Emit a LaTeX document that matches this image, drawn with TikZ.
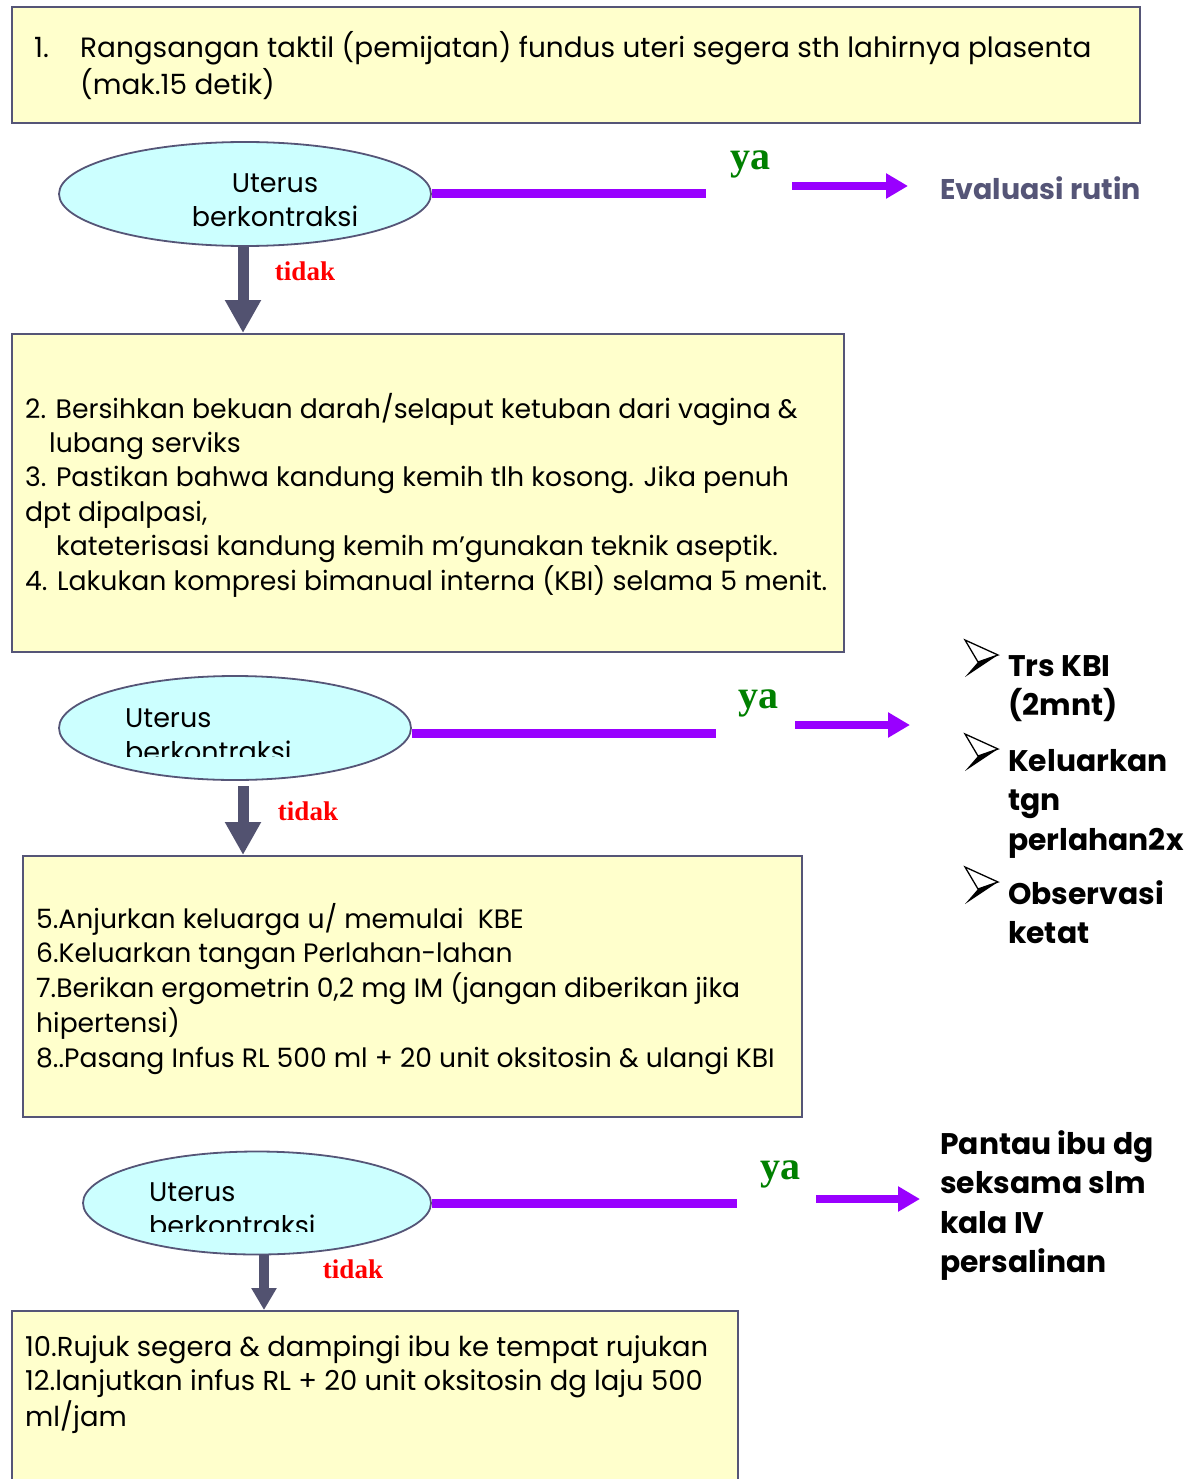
\documentclass[tikz,border=0pt]{standalone}
\usepackage{fontspec}
\setmainfont{Poppins}
\newfontfamily\serifbf{Liberation Serif}
\usetikzlibrary{shapes.geometric,arrows.meta,backgrounds}
\definecolor{boxfill}{HTML}{FFFFCC}
\definecolor{edge}{HTML}{555577}
\definecolor{stemc}{HTML}{525270}
\definecolor{cyanfill}{HTML}{CCFFFF}
\definecolor{purp}{HTML}{9900FF}
\definecolor{yagreen}{HTML}{008000}
\definecolor{evalc}{HTML}{555577}
\newcommand\mylines[1]{\begin{tabular}[t]{@{}l@{}}#1\end{tabular}}
\begin{document}
\begin{tikzpicture}[x=1pt,y=-1pt,
  stepbox/.style={draw=edge, line width=2pt, fill=boxfill, rectangle, anchor=north west, inner sep=0pt},
  decision/.style={ellipse, draw=edge, line width=1.8pt, fill=cyanfill, inner sep=0pt},
  body/.style={font=\fontsize{27}{34.5}\selectfont, anchor=base west, inner sep=0pt},
  stem/.style={draw=stemc, line width=11pt},
  down/.style={stem, -{Triangle[width=34pt,length=33pt]}},
  downsmall/.style={draw=stemc, line width=10pt, -{Triangle[width=24pt,length=22pt]}},
  yesline/.style={draw=purp, line width=9pt},
  yesarrow/.style={draw=purp, line width=8pt, -{Triangle[width=24pt,length=22pt]}},
  yalabel/.style={font=\serifbf\bfseries\fontsize{40}{40}\selectfont, text=yagreen, inner sep=0pt},
  tidaklabel/.style={font=\serifbf\bfseries\fontsize{27}{27}\selectfont, text=red, inner sep=0pt},
  boldtext/.style={font=\bfseries\fontsize{29.8}{39.5}\selectfont, anchor=base west, inner sep=0pt},
  ptr/.pic={
    \draw[line width=1.3pt, line join=miter, fill=white] (-15,-18) -- (18,-3) -- (-2,4) -- cycle;
    \fill[black] (-2,4) -- (18,-3) -- (-15,19) -- cycle;
  }
]
\useasboundingbox (0,0) rectangle (1194,1479);
\fill[white] (0,0) rectangle (1194,1479);

% ---------- boxes ----------
\node[stepbox, minimum width=1128pt, minimum height=116pt] (b1) at (11,6) {};
\node[stepbox, minimum width=832pt, minimum height=318pt] (b2) at (11,333) {};
\node[stepbox, minimum width=779pt, minimum height=261pt] (b3) at (22,855) {};
\node[stepbox, minimum width=726pt, minimum height=200pt] (b4) at (11,1310) {};

% ---------- decisions ----------
\node[decision, minimum width=372pt, minimum height=104pt] (d1) at (245,194) {};
\node[decision, minimum width=352pt, minimum height=104pt] (d2) at (235,728) {};
\node[decision, minimum width=348pt, minimum height=103pt] (d3) at (257,1203) {};

% ---------- box texts ----------
\node[body] (t1) at (34,58) {\fontsize{27.9}{35}\selectfont\mylines{\makebox[46pt][l]{1.}Rangsangan taktil (pemijatan) fundus uteri segera sth lahirnya plasenta\\\hspace*{46pt}(mak.15 detik)}};
\node[body] (t2) at (25,418) {\fontsize{26.7}{34.4}\selectfont\mylines{2. Bersihkan bekuan darah/selaput ketuban dari vagina \&\\\hspace*{24pt}lubang serviks\\3. Pastikan bahwa kandung kemih tlh kosong. Jika penuh\\dpt dipalpasi,\\\hspace*{31pt}kateterisasi kandung kemih m’gunakan teknik aseptik.\\4. Lakukan kompresi bimanual interna (KBI) selama 5 menit.}};
\node[body] (t3) at (36,928) {\fontsize{26.6}{34.5}\selectfont\mylines{5.Anjurkan keluarga u/ memulai\ \ KBE\\6.Keluarkan tangan Perlahan-lahan\\7.Berikan ergometrin 0,2 mg IM (jangan diberikan jika\\hipertensi)\\8..Pasang Infus RL 500 ml + 20 unit oksitosin \& ulangi KBI}};
\node[body] (t4) at (25,1356) {\fontsize{27.4}{34.5}\selectfont\mylines{10.Rujuk segera \& dampingi ibu ke tempat rujukan\\12.lanjutkan infus RL + 20 unit oksitosin dg laju 500\\ml/jam}};

% ---------- decision texts ----------
\node[body, anchor=base] (u1) at (275,193) {Uterus};
\node[body, anchor=base] (k1) at (275,227) {berkontraksi};
\begin{scope}
  \clip (60,690) rectangle (410,756);
  \node[body] (u2) at (125,727) {Uterus};
  \node[body] (k2) at (125,761) {berkontraksi};
\end{scope}
\begin{scope}
  \clip (84,1165) rectangle (430,1231);
  \node[body] (u3) at (149,1201) {Uterus};
  \node[body] (k3) at (149,1235) {berkontraksi};
\end{scope}

% ---------- labels ----------
\node[yalabel] (ya1) at (750,164) {ya};
\node[yalabel] (ya2) at (758,703) {ya};
\node[yalabel] (ya3) at (780,1174) {ya};
\node[tidaklabel] (no1) at (305,271) {tidak};
\node[tidaklabel] (no2) at (308,811) {tidak};
\node[tidaklabel] (no3) at (353,1269) {tidak};

% ---------- outcomes ----------
\node[boldtext, anchor=west, text=evalc, font=\bfseries\fontsize{28.5}{34}\selectfont] (ev) at (940,188) {Evaluasi rutin};
\node[boldtext] (o1) at (1008,676) {\mylines{Trs KBI\\(2mnt)}};
\node[boldtext] (o2) at (1008,771) {\mylines{Keluarkan\\tgn\\perlahan2x}};
\node[boldtext] (o3) at (1008,904) {\mylines{Observasi\\ketat}};
\node[boldtext] (pt) at (940,1154) {\mylines{Pantau ibu dg\\seksama slm\\kala IV\\persalinan}};
\pic at (980,658) {ptr};
\pic at (980,752) {ptr};
\pic at (980,885) {ptr};

% ---------- yes branch coordinates ----------
\coordinate (y1a) at (706,194);
\coordinate (y1b) at (792,186);
\coordinate (y1c) at (908,186);
\coordinate (y2a) at (716,733);
\coordinate (y2b) at (795,725);
\coordinate (y2c) at (910,725);
\coordinate (y3a) at (737,1203);
\coordinate (y3b) at (816,1199);
\coordinate (y3c) at (920,1199);

% ---------- connectors ----------
\begin{pgfonlayer}{background}
  \draw[stem] (243,0 |- b1.south) -- (243,0 |- d1.north);
  \draw[stem] (243,0 |- b2.south) -- (243,0 |- d2.north);
  \draw[stem] (264,0 |- b3.south) -- (264,0 |- d3.north);
\end{pgfonlayer}
\draw[down] (243,0 |- d1.south) -- (243,0 |- b2.north);
\draw[down] (243,786) -- (243,0 |- b3.north);
\draw[downsmall] (264,0 |- d3.south) -- (264,0 |- b4.north);
\draw[yesline] (d1.east) -- (y1a);
\draw[yesarrow] (y1b) -- (y1c);
\draw[yesline] (y2a -| d2.east) -- (y2a);
\draw[yesarrow] (y2b) -- (y2c);
\draw[yesline] (d3.east) -- (y3a);
\draw[yesarrow] (y3b) -- (y3c);
\end{tikzpicture}
\end{document}
